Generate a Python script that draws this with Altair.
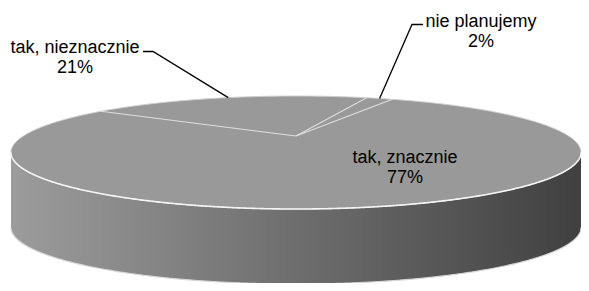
import numpy as np
import pandas as pd
import altair as alt

# ---- data ----
categories = ["tak, znacznie", "tak, nieznacznie", "nie planujemy"]
values = [77, 21, 2]

# ---- layout (pixels of the page) ----
W, H = 573, 275
CX, HUBY = 296.0, 136.0          # hub of the pie on screen
K = 0.292                        # perspective strength
B = 51.7                         # vertical radius factor
HALFW = 285.0                    # half width of the top face
A = HALFW * np.sqrt(1 - K ** 2)
DEPTH = 75.0
START = 63.5                     # first slice angle (deg), slices go clockwise


def proj(theta_deg, dy=0.0):
    t = np.radians(theta_deg)
    u, v = np.cos(t), np.sin(t)
    d = 1 + K * v
    return CX + A * u / d, HUBY - B * v / d + dy


def arcs(x):
    D = (x - CX) * B / A
    r = np.sqrt(np.clip(B ** 2 - (1 - K ** 2) * D ** 2, 0, None))
    s_up = (-B * K + r) / (1 - K ** 2)
    s_lo = (-B * K - r) / (1 - K ** 2)
    return HUBY - s_up, HUBY - s_lo


t = np.linspace(np.pi, 0, 500)
xs = CX + HALFW * np.cos(t)
ytop, ybot = arcs(xs)
face = pd.DataFrame({"x": xs, "y": ytop, "y2": ybot})
side = pd.DataFrame({"x": xs, "y": ybot, "y2": ybot + DEPTH})

outline = pd.DataFrame({
    "x": np.concatenate([xs, xs[::-1]]),
    "y": np.concatenate([ytop, ybot[::-1]]),
})
outline["i"] = np.arange(len(outline))
front = pd.DataFrame({"x": xs, "y": ybot, "i": np.arange(len(xs))})
bottom = pd.DataFrame({"x": xs, "y": ybot + DEPTH, "i": np.arange(len(xs))})

# dividers from slice boundaries
bounds = START - np.cumsum([0] + values) * 3.6
div_rows = []
for b in bounds[:-1]:
    ex, ey = proj(b)
    div_rows.append({"x": CX, "y": HUBY, "x2": ex, "y2": ey})
dividers = pd.DataFrame(div_rows)

# labels
mids = (bounds[:-1] + bounds[1:]) / 2
label_pos = {  # (center x, first baseline)
    "tak, znacznie": (405, 163),
    "tak, nieznacznie": (75, 53),
    "nie planujemy": (481, 27),
}
leader_elbow = {
    "tak, nieznacznie": [(153, 51.5), (143, 51.5)],
    "nie planujemy": [(412, 24.5), (423, 24.5)],
}
lab_rows, lead_rows = [], []
total = sum(values)
for cat, val, m in zip(categories, values, mids):
    lx, ly = label_pos[cat]
    lab_rows.append({"x": lx, "y": ly, "text": f"{cat}\n{round(100 * val / total)}%"})
    if cat in leader_elbow:
        ex, ey = proj(m)
        pts = [(ex, ey)] + leader_elbow[cat]
        for j, (px, py) in enumerate(pts):
            lead_rows.append({"x": px, "y": py, "i": j, "cat": cat})
labels = pd.DataFrame(lab_rows)
leaders = pd.DataFrame(lead_rows)

xsc = alt.Scale(domain=[8, 8 + W], nice=False, zero=False)
ysc = alt.Scale(domain=[8, 8 + H], nice=False, zero=False, reverse=True)
X = lambda f="x": alt.X(f"{f}:Q", scale=xsc, axis=None)
Y = lambda f="y": alt.Y(f"{f}:Q", scale=ysc, axis=None)

grad = alt.Gradient(
    gradient="linear",
    stops=[alt.GradientStop(color="#9c9c9c", offset=0),
           alt.GradientStop(color="#404040", offset=1)],
    x1=0, x2=1, y1=0, y2=0,
)

side_l = alt.Chart(side).mark_area(color=grad, strokeWidth=0).encode(
    x=X(), y=Y(), y2=alt.Y2("y2:Q"))
bottom_l = alt.Chart(bottom).mark_line(color="#d6d6d6", strokeWidth=1.2).encode(
    x=X(), y=Y(), order="i:Q")
face_l = alt.Chart(face).mark_area(color="#999999", strokeWidth=0).encode(
    x=X(), y=Y(), y2=alt.Y2("y2:Q"))
outline_l = alt.Chart(outline).mark_line(color="#cfcfcf", strokeWidth=1).encode(
    x=X(), y=Y(), order="i:Q")
front_l = alt.Chart(front).mark_line(color="#f4f4f4", strokeWidth=1.6).encode(
    x=X(), y=Y(), order="i:Q")
div_l = alt.Chart(dividers).mark_rule(color="#dedede", strokeWidth=1.1).encode(
    x=X(), y=Y(), x2="x2:Q", y2="y2:Q")
lead_l = alt.Chart(leaders).mark_line(color="black", strokeWidth=1.3).encode(
    x=X(), y=Y(), order="i:Q", detail="cat:N")
text_l = alt.Chart(labels).mark_text(
    font="Liberation Sans", fontSize=18, lineBreak="\n", lineHeight=20,
    align="center", baseline="alphabetic", color="black",
).encode(x=X(), y=Y(), text="text:N")

chart = alt.layer(
    side_l, bottom_l, face_l, outline_l, front_l, div_l, lead_l, text_l
).properties(
    width=W, height=H, padding=0, autosize=alt.AutoSizeParams(type="none"),
    background="white",
).configure_view(stroke=None)

chart.save("out.html", embed_options={"renderer": "svg", "actions": False})
